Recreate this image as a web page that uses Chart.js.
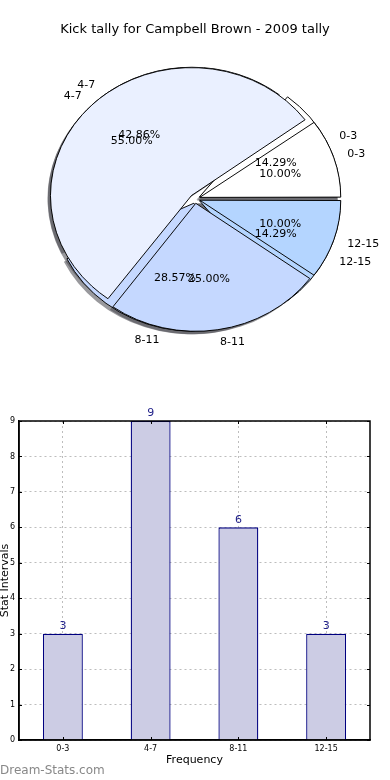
<!DOCTYPE html>
<html>
<head>
<meta charset="utf-8">
<script src="https://cdn.jsdelivr.net/npm/chart.js@4/dist/chart.umd.min.js"></script>
<style>
  html, body { margin: 0; padding: 0; background: #fff; }
  body { width: 390px; height: 780px; position: relative; overflow: hidden; font-family: "DejaVu Sans", sans-serif; }
  #pieBox { position: absolute; left: 0; top: 0; width: 390px; height: 360px; }
  #barBox { position: absolute; left: 0; top: 390px; width: 390px; height: 390px; }
  #mark { position: absolute; left: 0; top: 763px; font-size: 12px; color: #888; }
</style>
</head>
<body>
<div id="pieBox"><canvas id="pieChart"></canvas></div>
<div id="barBox"><canvas id="barChart"></canvas></div>
<div id="mark">Dream-Stats.com</div>
<script>
const categories = ["0-3", "4-7", "8-11", "12-15"];
const kickCounts = [3, 9, 6, 3];        // under pie + bars (14.29 / 42.86 / 28.57 / 14.29 %)
const overlayCounts = [2, 11, 5, 2];    // pie drawn on top (10 / 55 / 25 / 10 %)
const sliceColors = ["#ffffff", "#eaf0ff", "#c5d8ff", "#b4d5ff"];
const yTicks = [0, 1, 2, 3, 4, 5, 6, 7, 8, 9];

Chart.defaults.font.family = "'DejaVu Sans', sans-serif";

// matplotlib-ish pie: ellipse (non-equal axes), counter-clockwise from east, exploded, with shadow
const SQUASH = 128 / 141;
const EXPLODE = 5;

function ellipseTransform(ctx, cx, cy) {
    ctx.translate(cx, cy);
    ctx.scale(1, -SQUASH);
    ctx.translate(-cx, -cy);
}

const pieShape = {
    id: "pieShape",
    afterDatasetsUpdate(chart) {
        // both pies full size and overlapping instead of rings
        const R = chart.getDatasetMeta(0).controller.outerRadius;
        chart.$pieR = R;
        chart.data.datasets.forEach((ds, i) => {
            chart.getDatasetMeta(i).data.forEach(arc => {
                const fix = 1 - Math.sin(Math.min(Math.PI, arc.endAngle - arc.startAngle));
                arc.innerRadius = 0;
                arc.outerRadius = R - EXPLODE * fix;
            });
        });
    },
    beforeDatasetsDraw(chart) {
        const ctx = chart.ctx;
        const a0 = chart.getDatasetMeta(0).data[0];
        const R = chart.$pieR;
        ctx.save();
        ctx.translate(-3, 3);
        ellipseTransform(ctx, a0.x, a0.y);
        ctx.fillStyle = "rgba(70, 70, 77, 0.55)";
        chart.data.datasets.forEach((ds, i) => {
            chart.getDatasetMeta(i).data.forEach(arc => {
                const mid = (arc.startAngle + arc.endAngle) / 2;
                const x = arc.x + Math.cos(mid) * EXPLODE;
                const y = arc.y + Math.sin(mid) * EXPLODE;
                ctx.beginPath();
                ctx.moveTo(x, y);
                ctx.arc(x, y, R, arc.startAngle, arc.endAngle);
                ctx.closePath();
                ctx.fill();
            });
        });
        ctx.restore();
        ctx.save();
        ellipseTransform(ctx, a0.x, a0.y);
    },
    afterDatasetsDraw(chart) {
        chart.ctx.restore();
    },
    afterDraw(chart) {
        const ctx = chart.ctx;
        const R = chart.$pieR;
        ctx.save();
        ctx.font = "11px 'DejaVu Sans'";
        ctx.fillStyle = "#000";
        ctx.textBaseline = "middle";
        chart.data.datasets.forEach((ds, i) => {
            const total = ds.data.reduce((a, b) => a + b, 0);
            chart.getDatasetMeta(i).data.forEach((arc, j) => {
                const mid = (arc.startAngle + arc.endAngle) / 2;
                const c = Math.cos(mid), s = Math.sin(mid);
                const at = k => [arc.x + c * (EXPLODE + k * R), arc.y - SQUASH * s * (EXPLODE + k * R)];
                const [lx, ly] = at(1.1);
                ctx.textAlign = c >= 0 ? "left" : "right";
                ctx.fillText(chart.data.labels[j], lx, ly);
                const [px, py] = at(0.6);
                ctx.textAlign = "center";
                ctx.fillText((ds.data[j] / total * 100).toFixed(2) + "%", px, py);
            });
        });
        ctx.restore();
    }
};

new Chart(document.getElementById("pieChart"), {
    type: "pie",
    data: {
        labels: categories,
        datasets: [
            { data: overlayCounts, backgroundColor: sliceColors, borderColor: "#000", borderWidth: 1, offset: EXPLODE * 4 },
            { data: kickCounts, backgroundColor: sliceColors, borderColor: "#000", borderWidth: 1, offset: EXPLODE * 4 }
        ]
    },
    options: {
        responsive: true,
        maintainAspectRatio: false,
        animation: false,
        events: [],
        rotation: 90,
        radius: 141,
        layout: { padding: { top: 0, bottom: 10 } },
        plugins: {
            legend: { display: false },
            tooltip: { enabled: false },
            title: {
                display: true,
                text: "Kick tally for Campbell Brown - 2009 tally",
                color: "#000",
                font: { size: 13, weight: "normal" },
                padding: { top: 22, bottom: 10 }
            }
        }
    },
    plugins: [pieShape]
});

const frameAndValues = {
    id: "frameAndValues",
    afterDraw(chart) {
        const ctx = chart.ctx;
        const a = chart.chartArea;
        const xs = chart.scales.x, ys = chart.scales.y;
        ctx.save();
        ctx.strokeStyle = "#000";
        ctx.lineWidth = 1;
        ctx.beginPath();
        yTicks.forEach(v => {
            const y = Math.round(ys.getPixelForValue(v)) + 0.5;
            ctx.moveTo(a.left, y); ctx.lineTo(a.left + 3, y);
            ctx.moveTo(a.right - 3, y); ctx.lineTo(a.right, y);
        });
        categories.forEach((c, i) => {
            const x = Math.round(xs.getPixelForValue(i)) + 0.5;
            ctx.moveTo(x, a.bottom); ctx.lineTo(x, a.bottom - 3);
            ctx.moveTo(x, a.top); ctx.lineTo(x, a.top + 3);
        });
        ctx.stroke();
        ctx.lineWidth = 1.5;
        ctx.strokeRect(a.left, a.top, a.right - a.left, a.bottom - a.top);
        ctx.fillStyle = "#22228a";
        ctx.font = "11px 'DejaVu Sans'";
        ctx.textAlign = "center";
        ctx.textBaseline = "bottom";
        chart.getDatasetMeta(0).data.forEach((bar, i) => {
            ctx.fillText(String(chart.data.datasets[0].data[i]), bar.x, bar.y - 2);
        });
        ctx.restore();
    }
};

new Chart(document.getElementById("barChart"), {
    type: "bar",
    data: {
        labels: categories,
        datasets: [{
            data: kickCounts,
            backgroundColor: "rgb(204, 204, 228)",
            borderColor: "#000080",
            borderWidth: 1.3,
            barPercentage: 0.455,
            categoryPercentage: 1
        }]
    },
    options: {
        responsive: true,
        maintainAspectRatio: false,
        animation: false,
        events: [],
        layout: { padding: { top: 31, right: 20, left: 0, bottom: 0 } },
        plugins: { legend: { display: false }, tooltip: { enabled: false } },
        scales: {
            x: {
                grid: { offset: false, color: "#bdbdbd", drawTicks: false },
                border: { color: "#000", width: 1.5, dash: [2, 3] },
                ticks: { font: { size: 8 }, color: "#000", padding: 4 },
                title: { display: true, text: "Frequency", color: "#000", font: { size: 11 }, padding: { top: 0, bottom: 13 } },
                afterFit: s => { s.height = 40; }
            },
            y: {
                min: yTicks[0],
                max: yTicks[yTicks.length - 1],
                grid: { color: "#bdbdbd", drawTicks: false },
                border: { color: "#000", width: 1.5, dash: [2, 3] },
                ticks: { stepSize: 1, font: { size: 8 }, color: "#000", padding: 4 },
                title: { display: true, text: "Stat Intervals", color: "#000", font: { size: 11, lineHeight: 1 }, padding: { top: 0, bottom: 0 } },
                afterFit: s => { s.width = 19; }
            }
        }
    },
    plugins: [frameAndValues]
});
</script>
</body>
</html>
